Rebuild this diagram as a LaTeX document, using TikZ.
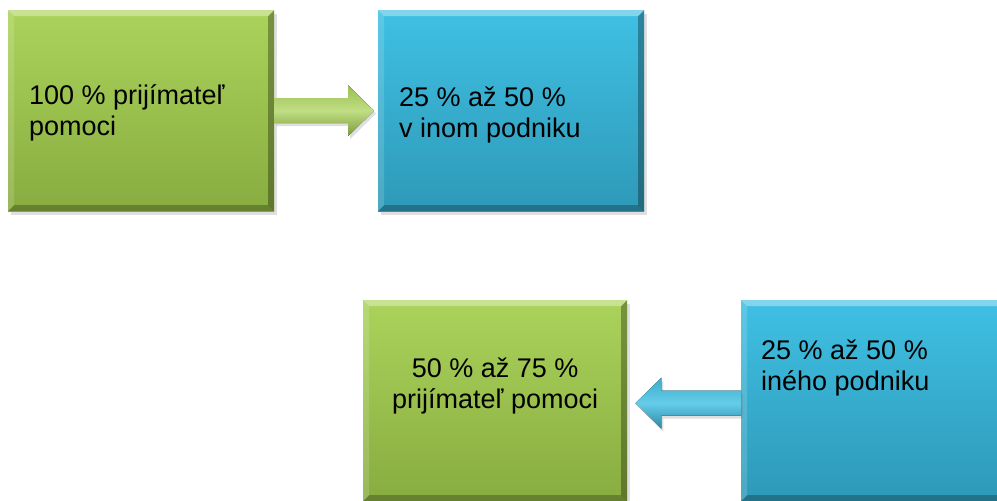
\documentclass[tikz,border=0pt]{standalone}
\usepackage{fontspec}
\setmainfont{Liberation Sans}
\usetikzlibrary{calc,shadows}

\definecolor{gtop}{HTML}{ABD35B}
\definecolor{gbot}{HTML}{88AC40}
\definecolor{btop}{HTML}{3FC0E3}
\definecolor{bbot}{HTML}{2E99B8}

\tikzset{
  bevel/.style={path picture={
      \fill[white,opacity=0.35] (path picture bounding box.north west) -- (path picture bounding box.north east)
        -- ([xshift=-6pt,yshift=-6pt]path picture bounding box.north east) -- ([xshift=6pt,yshift=-6pt]path picture bounding box.north west) -- cycle;
      \fill[white,opacity=0.15] (path picture bounding box.north west) -- ([xshift=6pt,yshift=-6pt]path picture bounding box.north west)
        -- ([xshift=6pt,yshift=6pt]path picture bounding box.south west) -- (path picture bounding box.south west) -- cycle;
      \fill[black,opacity=0.25] (path picture bounding box.south west) -- (path picture bounding box.south east)
        -- ([xshift=-6pt,yshift=6pt]path picture bounding box.south east) -- ([xshift=6pt,yshift=6pt]path picture bounding box.south west) -- cycle;
      \fill[black,opacity=0.3] (path picture bounding box.north east) -- (path picture bounding box.south east)
        -- ([xshift=-6pt,yshift=6pt]path picture bounding box.south east) -- ([xshift=-6pt,yshift=-6pt]path picture bounding box.north east) -- cycle;
    }},
  box/.style={minimum height=201pt,inner sep=0pt,anchor=north west,bevel,
    drop shadow={opacity=0.25,shadow xshift=3pt,shadow yshift=-4pt}},
  greenbox/.style={box,top color=gtop,bottom color=gbot},
  bluebox/.style={box,top color=btop,bottom color=bbot},
  greenarrow/.style={top color=gtop!90!black,bottom color=gbot!90!black,middle color=gtop!75!white,
    drop shadow={opacity=0.25,shadow xshift=2pt,shadow yshift=-3pt}},
  bluearrow/.style={top color=btop!90!black,bottom color=bbot!90!black,middle color=btop!80!white,
    drop shadow={opacity=0.25,shadow xshift=2pt,shadow yshift=-3pt}},
  boxtext/.style={font=\fontsize{27}{31}\selectfont,inner sep=0pt}
}

\begin{document}
\begin{tikzpicture}[x=1pt,y=1pt]

    \def\shaft{12.5}
    \def\head{25.5}
    \def\headlen{26}

    \clip (0,0) rectangle (997,501);

    % upper row
    \node[greenbox,minimum width=266pt] (help) at (8,491) {};
    \node[bluebox,minimum width=266pt] (inom) at (378,491) {};

    % lower row
    \node[greenbox,minimum width=264pt] (prij) at (363,201) {};
    \node[bluebox,minimum width=266pt] (ineho) at (741,201) {};

    \node[boxtext,align=left,anchor=west] (helptext) at ($(help.west)+(21,-2)$) {100 \% prijímateľ\\pomoci};
    \node[boxtext,align=left,anchor=west] (inomtext) at ($(inom.west)+(21,-4)$) {25 \% až 50 \%\\v inom podniku};
    \node[boxtext,align=center] (prijtext) at ($(prij.center)+(0,15)$) {50 \% až 75 \%\\prijímateľ pomoci};
    \node[boxtext,align=left,anchor=north west] (inehotext) at ($(ineho.north west)+(20,-40)$) {25 \% až 50 \%\\iného podniku};

    \fill[greenarrow] ($(help.east)+(0,\shaft)$) -- ($(inom.west)+(-4-\headlen,\shaft)$)
        -- ($(inom.west)+(-4-\headlen,\head)$) -- ($(inom.west)+(-4,0)$)
        -- ($(inom.west)+(-4-\headlen,-\head)$) -- ($(inom.west)+(-4-\headlen,-\shaft)$)
        -- ($(help.east)+(0,-\shaft)$) -- cycle;

    \fill[bluearrow] ($(ineho.west)+(0,-2.5+\shaft)$) -- ($(prij.east)+(8+\headlen,-2.5+\shaft)$)
        -- ($(prij.east)+(8+\headlen,-2.5+\head)$) -- ($(prij.east)+(8,-2.5)$)
        -- ($(prij.east)+(8+\headlen,-2.5-\head)$) -- ($(prij.east)+(8+\headlen,-2.5-\shaft)$)
        -- ($(ineho.west)+(0,-2.5-\shaft)$) -- cycle;

\end{tikzpicture}
\end{document}
